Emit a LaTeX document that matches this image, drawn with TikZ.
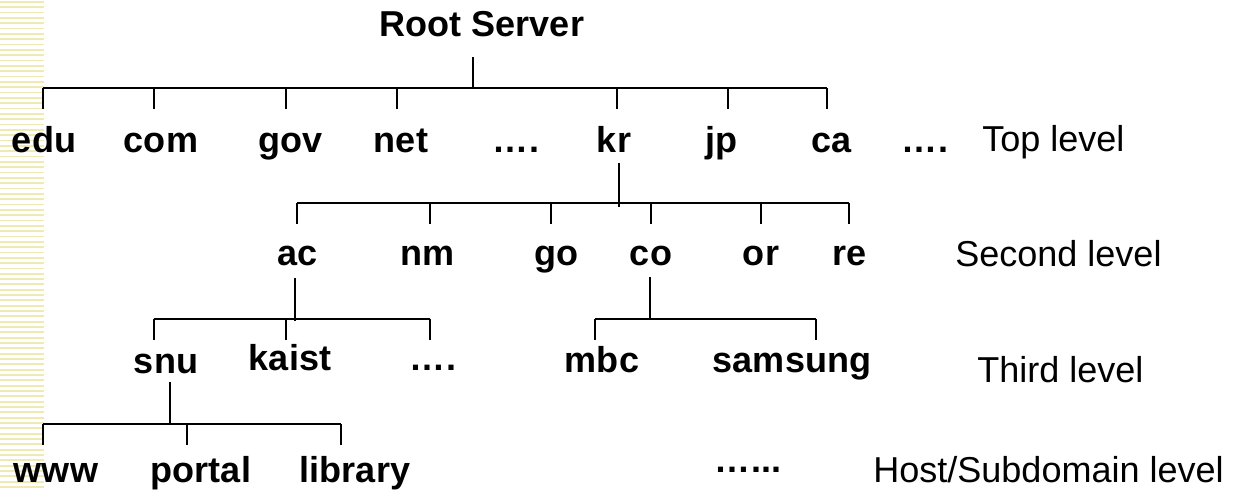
\documentclass[tikz,border=0pt]{standalone}
\usepackage{fontspec}
\setmainfont{Liberation Sans}
\usepackage{tikz}
\usetikzlibrary{calc}
\definecolor{stripe}{HTML}{EFE9B4}
\tikzset{%
    dom/.style={anchor=base, inner sep=0pt, font=\fontsize{20.5}{24}\selectfont\bfseries},
    lvl/.style={anchor=base west, inner sep=0pt, font=\fontsize{20.5}{24}\selectfont},
    bus/.style={line width=1.3pt}
}

\begin{document}
\begin{tikzpicture}[x=0.02cm, y=-0.02cm]
      \useasboundingbox (0,0) rectangle (1242,490);

      % striped margin
      \foreach \k in {0,...,91}
        \fill[stripe] (0,{\k*5.33+1}) rectangle (44,{\k*5.33+2.8});

      \node[dom] (root) at (482,36) {Root Server};

      % top level
      \node[dom] (edu) at (44,152) {edu};
      \node[dom] (com) at (161,152) {com};
      \node[dom] (gov) at (291,152) {gov};
      \node[dom] (net) at (401,152) {net};
      \node[dom] (dotsA) at (516,152) {….};
      \node[dom] (kr) at (614,152) {kr};
      \node[dom] (jp) at (721,152) {jp};
      \node[dom] (ca) at (832,152) {ca};
      \node[dom] (dotsB) at (925,152) {….};
      \node[lvl] (top) at (982,151) {Top level};

      % second level
      \node[dom] (ac) at (298,265) {ac};
      \node[dom] (nm) at (428,265) {nm};
      \node[dom] (go) at (556,265) {go};
      \node[dom] (co) at (651,265) {co};
      \node[dom] (or) at (761,265) {or};
      \node[dom] (re) at (850,265) {re};
      \node[lvl] (second) at (955,266) {Second level};

      % third level
      \node[dom] (snu) at (166,373) {snu};
      \node[dom] (kaist) at (290,370) {kaist};
      \node[dom] (dotsC) at (433,370) {….};
      \node[dom] (mbc) at (602,372) {mbc};
      \node[dom] (samsung) at (792,372) {samsung};
      \node[lvl] (third) at (977,382) {Third level};

      % hosts
      \node[dom] (www) at (56,482) {www};
      \node[dom] (portal) at (201,482) {portal};
      \node[dom] (library) at (355,482) {library};
      \node[dom] (dotsD) at (748,472) {…...};
      \node[lvl] (host) at (873,482) {Host/Subdomain level};

      \coordinate (b1) at (0,88);
      \coordinate (b2) at (0,203);
      \coordinate (b3) at (0,319);
      \coordinate (b4) at (0,424);

      % root -> top level
      \draw[bus] ($(root.base)+(-9,21)$) -- ($(root |- b1)+(-9,0)$);
      \draw[bus] ($(edu |- b1)+(-1,0)$) -- ($(ca |- b1)+(-5,0)$);
      \foreach \n/\d in {edu/-1,com/-7,gov/-5,net/-4,kr/3,jp/7,ca/-5}
        \draw[bus] ($(\n |- b1)+(\d,0)$) -- ++(0,21);

      % kr -> second level
      \draw[bus] ($(kr.base)+(5,11)$) -- ($(kr |- b2)+(5,4)$);
      \draw[bus] ($(ac |- b2)+(-1,0)$) -- ($(re |- b2)+(-1,0)$);
      \foreach \n/\d in {ac/-1,nm/2,go/-5,co/0,or/0,re/-1}
        \draw[bus] ($(\n |- b2)+(\d,0)$) -- ++(0,21);

      % ac -> third level
      \draw[bus] ($(ac.base)+(-3,13)$) -- ($(ac |- b3)+(-3,2)$);
      \draw[bus] ($(snu |- b3)+(-12,0)$) -- ($(dotsC |- b3)+(-3,0)$);
      \foreach \n/\d in {snu/-12,kaist/-4,dotsC/-3}
        \draw[bus] ($(\n |- b3)+(\d,0)$) -- ++(0,21);

      % co -> third level
      \draw[bus] ($(co.base)+(-1,12)$) -- ($(co |- b3)+(-1,1)$);
      \draw[bus] ($(mbc |- b3)+(-7,0)$) -- ($(samsung |- b3)+(24,0)$);
      \foreach \n/\d in {mbc/-7,samsung/24}
        \draw[bus] ($(\n |- b3)+(\d,0)$) -- ++(0,21);

      % snu -> hosts
      \draw[bus] ($(snu.base)+(4,9)$) -- ($(snu |- b4)+(4,0)$);
      \draw[bus] ($(www |- b4)+(-13,0)$) -- ($(library |- b4)+(-14,0)$);
      \foreach \n/\d in {www/-13,portal/-14,library/-14}
        \draw[bus] ($(\n |- b4)+(\d,0)$) -- ++(0,21);
    \end{tikzpicture}
\end{document}
